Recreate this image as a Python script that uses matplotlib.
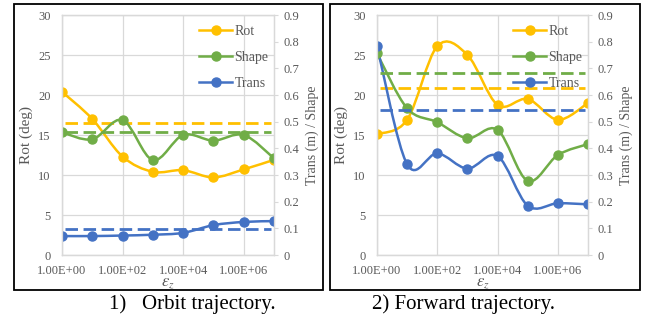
import numpy as np
import matplotlib
matplotlib.use('Agg')
import matplotlib.pyplot as plt
from matplotlib.path import Path
from matplotlib.patches import PathPatch, Rectangle
from matplotlib.lines import Line2D

# data
eps_z = [1, 10, 100, 1e3, 1e4, 1e5, 1e6, 1e7]
x_ticks = [1, 1e2, 1e4, 1e6]
x_tick_labels = ['1.00E+00', '1.00E+02', '1.00E+04', '1.00E+06']
rot_ticks = [0, 5, 10, 15, 20, 25, 30]
rs_ticks = [0, 0.1, 0.2, 0.3, 0.4, 0.5, 0.6, 0.7, 0.8, 0.9]
rs_tick_labels = ['0', '0.1', '0.2', '0.3', '0.4', '0.5', '0.6', '0.7', '0.8', '0.9']

orbit_rot = [20.4, 17.0, 12.3, 10.4, 10.6, 9.7, 10.7, 11.9]
orbit_shape = [0.46, 0.434, 0.506, 0.356, 0.45, 0.429, 0.45, 0.3625]
orbit_trans = [0.071, 0.071, 0.073, 0.076, 0.083, 0.112, 0.124, 0.127]
orbit_ref = {'rot': 16.45, 'shape': 0.46, 'trans': 0.099}

forward_rot = [15.1, 16.9, 26.1, 25.0, 18.75, 19.5, 16.9, 19.0]
forward_shape = [0.756, 0.55, 0.498, 0.438, 0.469, 0.278, 0.375, 0.416]
forward_trans = [0.784, 0.34, 0.381, 0.324, 0.371, 0.185, 0.194, 0.19]
forward_ref = {'rot': 20.9, 'shape': 0.681, 'trans': 0.543}

captions = ['1)   Orbit trajectory.', '2) Forward trajectory.']

YELLOW = '#FFC000'
GREEN = '#70AD47'
BLUE = '#4472C4'
GRID = '#D9D9D9'
TXT = '#595959'

plt.rcParams['font.family'] = ['Liberation Serif', 'DejaVu Serif']
plt.rcParams['mathtext.fontset'] = 'stix'


def smooth_path(xs, ys):
    # excel style smoothed line: bezier segments in log-x space
    pts = np.column_stack([np.log10(xs), np.asarray(ys, float)])
    n = len(pts)
    verts = [pts[0]]
    codes = [Path.MOVETO]
    for i in range(n - 1):
        p0 = pts[max(i - 1, 0)]
        p1 = pts[i]
        p2 = pts[i + 1]
        p3 = pts[min(i + 2, n - 1)]
        verts += [p1 + (p2 - p0) / 6, p2 - (p3 - p1) / 6, p2]
        codes += [Path.CURVE4] * 3
    v = np.array(verts)
    v[:, 0] = 10 ** v[:, 0]
    return Path(v, codes)


def draw_series(ax, ys, color):
    ax.add_patch(PathPatch(smooth_path(eps_z, ys), fill=False, ec=color,
                           lw=1.8, joinstyle='round', capstyle='round'))
    ax.plot(eps_z, ys, 'o', color=color, ms=6.5, mec=color)


def draw_panel(ax, rot, shape, trans, ref):
    ax2 = ax.twinx()
    ax.set_xscale('log')
    ax.set_xlim(eps_z[0], eps_z[-1])
    ax.set_ylim(0, 30)
    ax2.set_ylim(0, 0.9)

    ax.set_xticks(x_ticks)
    ax.set_xticklabels(x_tick_labels)
    ax.xaxis.set_minor_locator(matplotlib.ticker.NullLocator())
    ax.set_yticks(rot_ticks)
    ax2.set_yticks(rs_ticks)
    ax2.set_yticklabels(rs_tick_labels)

    ax.tick_params(axis='x', length=0, labelsize=9, labelcolor=TXT, pad=7)
    ax.tick_params(axis='y', length=0, labelsize=9, labelcolor=TXT, pad=8)
    ax2.tick_params(axis='y', length=3, color=GRID, labelsize=9,
                    labelcolor=TXT, pad=4)
    ax.grid(True, color=GRID, lw=0.9)
    ax.set_axisbelow(True)
    for a in (ax, ax2):
        for s in a.spines.values():
            s.set_color(GRID)
            s.set_linewidth(0.9)

    draw_series(ax, rot, YELLOW)
    draw_series(ax2, shape, GREEN)
    draw_series(ax2, trans, BLUE)

    dash = dict(lw=2, ls=(0, (4.5, 2)))
    ax.plot([1.25, 0.8e7], [ref['rot']] * 2, color=YELLOW, **dash)
    ax2.plot([1.25, 0.8e7], [ref['shape']] * 2, color=GREEN, **dash)
    ax2.plot([1.25, 0.8e7], [ref['trans']] * 2, color=BLUE, **dash)

    ax.set_ylabel('Rot (deg)', fontsize=11, color=TXT, labelpad=4)
    ax2.set_ylabel('Trans (m) / Shape', fontsize=10, color=TXT, labelpad=4)
    ax.set_xlabel(r'$\varepsilon_z$', fontsize=12, color=TXT, labelpad=-1)

    handles = [Line2D([], [], color=c, marker='o', ms=6.5, lw=1.8)
               for c in (YELLOW, GREEN, BLUE)]
    leg = ax2.legend(handles, ['Rot', 'Shape', 'Trans'], loc='upper right',
                     bbox_to_anchor=(1.02, 1.0), frameon=False, fontsize=10,
                     labelspacing=0.95, handlelength=2.4, handletextpad=0.15,
                     borderpad=0.2)
    for t in leg.get_texts():
        t.set_color(TXT)


fig = plt.figure(figsize=(6.54, 3.2), dpi=100)
ax_left = fig.add_axes([62 / 654, 65 / 320, 212 / 654, 240 / 320])
ax_right = fig.add_axes([377 / 654, 65 / 320, 211 / 654, 240 / 320])

draw_panel(ax_left, orbit_rot, orbit_shape, orbit_trans, orbit_ref)
draw_panel(ax_right, forward_rot, forward_shape, forward_trans, forward_ref)

# frames around each panel
for x0, w in [(14, 309), (330, 310)]:
    fig.patches.append(Rectangle((x0 / 654, 30 / 320), w / 654, 286 / 320,
                                 transform=fig.transFigure, fill=False,
                                 ec='black', lw=1.3))

fig.text(192 / 654, 16 / 320, captions[0], ha='center', va='center', fontsize=15)
fig.text(464 / 654, 16 / 320, captions[1], ha='center', va='center', fontsize=15)

fig.savefig('out.png', dpi=100, facecolor='white')
